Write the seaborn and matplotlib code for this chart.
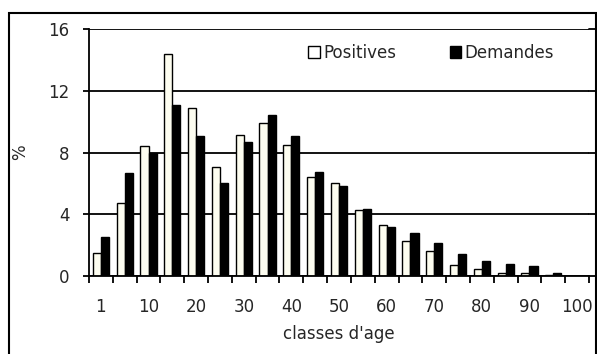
import numpy as np
import pandas as pd
import seaborn as sns
import matplotlib.pyplot as plt
from matplotlib.patches import Patch, Rectangle

# age classes (every 5 years), labels shown one out of two
classes = ['1', '5', '10', '15', '20', '25', '30', '35', '40', '45', '50',
           '55', '60', '65', '70', '75', '80', '85', '90', '95', '100']
positives = [1.5, 4.75, 8.45, 14.35, 10.9, 7.05, 9.15, 9.9, 8.5, 6.4, 6.05,
             4.3, 3.3, 2.25, 1.65, 0.7, 0.45, 0.2, 0.2, 0.05, 0.0]
demandes = [2.5, 6.7, 8.0, 11.1, 9.05, 6.05, 8.65, 10.45, 9.05, 6.75, 5.85,
            4.35, 3.2, 2.8, 2.15, 1.4, 1.0, 0.75, 0.65, 0.2, 0.0]
series = ['Positives', 'Demandes']
yticks = [0, 4, 8, 12, 16]

df = pd.DataFrame({
    'classe': classes * 2,
    'serie': ['Positives'] * len(classes) + ['Demandes'] * len(classes),
    'pct': positives + demandes,
})

sns.set_style('white')
plt.rcParams['font.family'] = ['DejaVu Sans']

fig = plt.figure(figsize=(5.97, 3.54), dpi=100)
ax = fig.add_axes([89 / 597, 1 - 276 / 354, 500 / 597, 247 / 354])

colors = {'Positives': '#FFFFEE', 'Demandes': 'black'}
sns.barplot(data=df, x='classe', y='pct', hue='serie', order=classes,
            hue_order=series, palette=colors, width=0.68, edgecolor='black',
            linewidth=1.0, legend=False, ax=ax)

ax.set_xlim(-0.5, len(classes) - 0.5)
ax.set_ylim(0, 16)
ax.set_yticks(yticks)
ax.yaxis.grid(True, color='black', linewidth=1.3)
ax.set_axisbelow(True)

# grid lines run on to the right edge of the picture
for y in yticks[1:]:
    ax.plot([len(classes) - 0.5, len(classes) + 0.5], [y, y], color='black',
            linewidth=1.3, clip_on=False, zorder=0)

# x ticks: marks on category borders, labels every other category
ax.set_xticks(np.arange(len(classes)))
ax.set_xticklabels([c if i % 2 == 0 else '' for i, c in enumerate(classes)])
ax.set_xticks(np.arange(-0.5, len(classes)), minor=True)
ax.tick_params(axis='x', which='major', length=0, pad=16, labelsize=12)
ax.tick_params(axis='x', which='minor', direction='out', length=5, width=1.3,
               color='black', bottom=True)
ax.tick_params(axis='y', direction='out', length=4, width=1.3, color='black',
               left=True, pad=10, labelsize=12)

for s in ['top', 'right']:
    ax.spines[s].set_visible(False)
for s in ['left', 'bottom']:
    ax.spines[s].set_color('black')
    ax.spines[s].set_linewidth(1.3)
ax.plot([len(classes) - 0.5, len(classes) + 0.5], [0, 0], color='black',
        linewidth=1.3, clip_on=False)

ax.set_xlabel("classes d'age", fontsize=12, labelpad=6)
ax.set_ylabel('%', fontsize=12, labelpad=14)

handles = [Patch(facecolor='white', edgecolor='black', label='Positives'),
           Patch(facecolor='black', edgecolor='black', label='Demandes')]
ax.legend(handles=handles, ncol=2, frameon=False, fontsize=12,
          loc='center left', bbox_to_anchor=(300 / 597, 1 - 53 / 354),
          bbox_transform=fig.transFigure, handlelength=0.7, handleheight=0.7,
          handletextpad=0.2, columnspacing=3.2, borderpad=0)

# chart frame
fig.patches.append(Rectangle((9 / 597, -0.1), 587 / 597, 1.1 - 13 / 354,
                             transform=fig.transFigure, fill=False,
                             edgecolor='black', linewidth=1.5))

fig.savefig('out.png', dpi=100)
